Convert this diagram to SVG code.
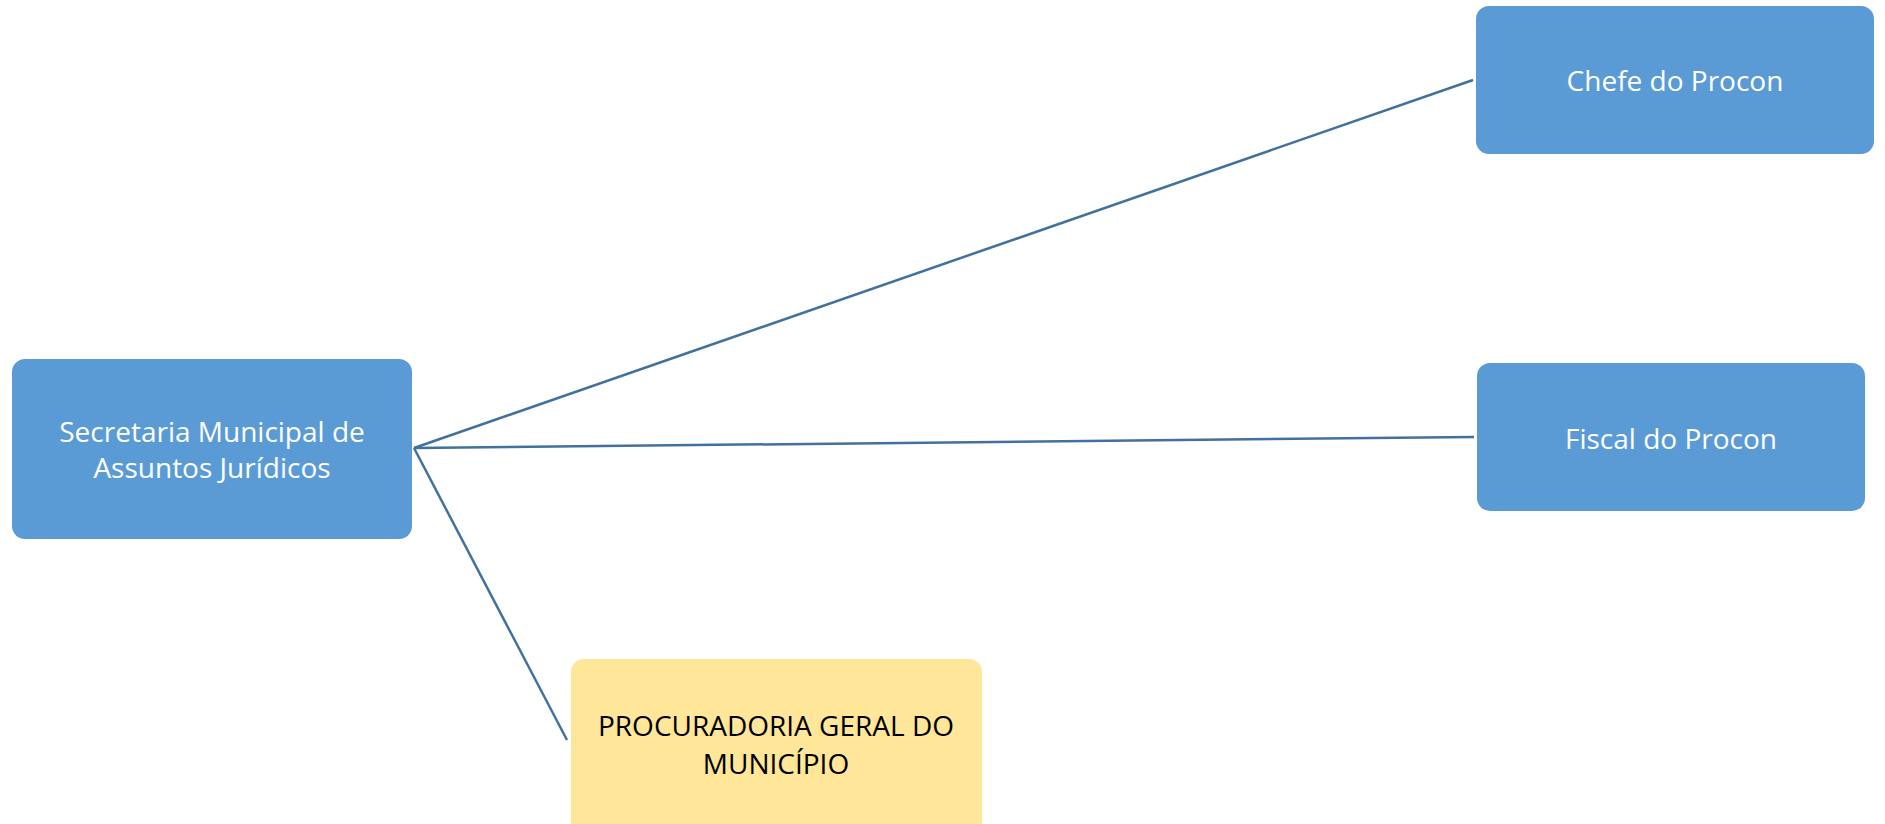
<svg xmlns="http://www.w3.org/2000/svg" width="1885" height="824" viewBox="0 0 1885 824">
<style>
.blue{fill:#5B9BD5}
.yellow{fill:#FFE699}
.t{font-family:"Open Sans","Liberation Sans",sans-serif;font-size:28px;text-anchor:middle}
.w{fill:#FFFFFF}
.k{fill:#000000}
.c{stroke:#41719C;stroke-width:2.5;fill:none}
</style>
<rect width="1885" height="824" fill="#FFFFFF"/>
<g id="connectors">
<line class="c" x1="414" y1="448" x2="1473" y2="80"/>
<line class="c" x1="414" y1="448" x2="1474" y2="437"/>
<line class="c" x1="414" y1="448" x2="567" y2="740"/>
</g>
<g id="secretaria">
<rect class="blue" x="12" y="359" width="400" height="180" rx="13"/>
<text class="t w" x="212" y="442">Secretaria Municipal de</text>
<text class="t w" x="212" y="478">Assuntos Jurídicos</text>
</g>
<g id="chefe">
<rect class="blue" x="1476" y="6" width="398" height="148" rx="13"/>
<text class="t w" x="1675" y="91">Chefe do Procon</text>
</g>
<g id="fiscal">
<rect class="blue" x="1477" y="363" width="388" height="148" rx="13"/>
<text class="t w" x="1671" y="449">Fiscal do Procon</text>
</g>
<g id="procuradoria">
<rect class="yellow" x="571" y="659" width="411" height="180" rx="13"/>
<text class="t k" x="776" y="736">PROCURADORIA GERAL DO</text>
<text class="t k" x="776" y="774">MUNICÍPIO</text>
</g>
</svg>
